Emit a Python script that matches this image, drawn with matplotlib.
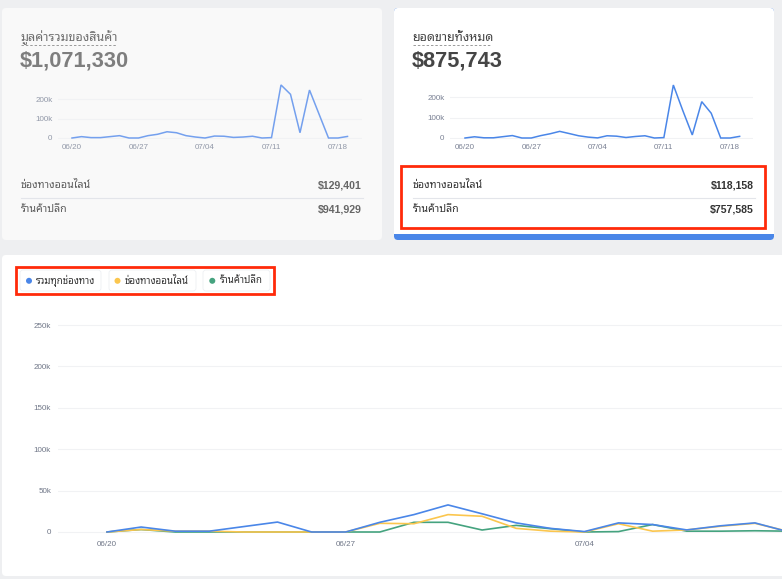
import matplotlib
matplotlib.use("Agg")
import matplotlib.pyplot as plt
import matplotlib.dates as mdates
from matplotlib.patches import FancyBboxPatch, Rectangle, Circle
import pandas as pd
import numpy as np

# ---------------- data ----------------
dates = pd.date_range("2024-06-20", "2024-07-19", freq="D")
# card 1: total product value (thousands)
goods_total = [0, 7, 2, 2, 7, 12, 0, 0, 12, 19, 32, 27, 12, 5, 0, 10, 9, 3, 5, 9,
               0, 2, 272, 224, 27, 246, 123, 0, 0, 8]
# card 2: total sales (thousands) - also the "all channels" series below
sales_total = [0, 6, 1, 1, 6.5, 12, 0, 0, 11.7, 21, 32.7, 22, 11, 4.4, 0.5, 11, 9, 2.5, 7.5, 11,
               0, 2, 261, 135, 15, 179, 122, 0, 0, 8]
# bottom chart, visible part (06/20 - 07/10)
online = [0, 3, 1, 1, 0, 0, 0, 0, 10.5, 10, 21, 19, 4.4, 1, 0, 10, 1, 2.5, 7, 10.5, 0.5]
retail = [0, 3, 0, 0, 0, 0, 0, 0, 0, 11.7, 11.7, 2.4, 8, 4, 0, 0.5, 9, 1, 1, 1.5, 1]

card_titles = ["มูลค่ารวมของสินค้า", "ยอดขายทั้งหมด"]
card_values = ["$1,071,330", "$875,743"]
row_labels = ["ช่องทางออนไลน์", "ร้านค้าปลีก"]
row_values = [["$129,401", "$941,929"], ["$118,158", "$757,585"]]
legend_labels = ["รวมทุกช่องทาง", "ช่องทางออนไลน์", "ร้านค้าปลีก"]
small_yticks = [0, 100, 200]
big_yticks = [0, 50, 100, 150, 200, 250]

# ---------------- style ----------------
W, H = 782, 579
BLUE = "#4a86e8"
YELLOW = "#fbc64e"
GREEN = "#45a37f"
RED = "#ff2a0a"
THAI = ["Noto Sans Thai Looped", "Liberation Sans", "DejaVu Sans"]
LATIN = ["Liberation Sans", "DejaVu Sans"]
plt.rcParams["font.family"] = LATIN

fig = plt.figure(figsize=(W / 100, H / 100), dpi=100)
fig.patch.set_facecolor("#eeeff1")

bg = fig.add_axes([0, 0, 1, 1], zorder=0)
bg.set_xlim(0, W)
bg.set_ylim(H, 0)
bg.axis("off")


def card(x0, y0, x1, y1, fc, ec="none"):
    p = FancyBboxPatch((x0 + 4, y0 + 4), (x1 - x0) - 8, (y1 - y0) - 8,
                       boxstyle="round,pad=4", fc=fc, ec=ec, lw=0.6, zorder=1)
    bg.add_patch(p)


def pxax(x0, y0, x1, y1):
    return fig.add_axes([x0 / W, 1 - y1 / H, (x1 - x0) / W, (y1 - y0) / H], zorder=3)


# cards
card(2, 8, 382, 240, "#f9f9f9")
card(394, 8, 774, 240, BLUE)
card(394, 8, 774, 236, "#ffffff")
bg.add_patch(Rectangle((394, 226), 380, 10, fc="#ffffff", ec="none", zorder=1.5))
bg.add_patch(Rectangle((394, 234), 380, 2.5, fc=BLUE, ec="none", zorder=1.6))
card(2, 255, 800, 576, "#ffffff")

# ---------------- top cards ----------------
card_x = [20.5, 412.5]
card_right = [362, 754]
title_col = ["#6f6f6f", "#444444"]
value_col = ["#7e7e7e", "#454545"]
row_col = ["#5c5c5c", "#333333"]
rowv_col = ["#666666", "#333333"]
line_col = ["#74a0ee", BLUE]
tick_col = ["#9198a8", "#7a8194"]
title_w = [96, 78]
series_small = [goods_total, sales_total]

for i in range(2):
    x = card_x[i]
    bg.text(x, 41, card_titles[i], family=THAI, fontsize=9.0, fontweight="bold",
            color=title_col[i], ha="left", va="baseline", zorder=4)
    bg.plot([x, x + title_w[i]], [44.5, 44.5], color="#9a9a9a", lw=0.7,
            ls=(0, (2.5, 2)), zorder=4)
    bg.text(x - 0.5, 66, card_values[i], fontsize=15.7, fontweight="bold",
            color=value_col[i], ha="left", va="baseline", zorder=4)
    for j, yy in enumerate([185, 210]):
        bg.text(x, yy, row_labels[j], family=THAI, fontsize=7.6,
                color=row_col[i], ha="left", va="center", zorder=4)
        bg.text(card_right[i], yy, row_values[i][j], fontsize=7.6, fontweight="bold",
                color=rowv_col[i], ha="right", va="center", zorder=4)
    bg.plot([x, card_right[i] + 1], [197.5, 197.5], color="#e3e5ea", lw=0.8, zorder=4)

# small charts
small_geo = [(58, 362, 72, 9.5, 19.5), (450, 753, 465, 9.47, 20.3)]
for i, (gx0, gx1, x0d, pxd, pxk) in enumerate(small_geo):
    ytop_k = 300
    ybot_k = -5
    ax = pxax(gx0, 138 - ytop_k * pxk / 100, gx1, 138 - ybot_k * pxk / 100)
    ax.patch.set_alpha(0)
    ax.plot(dates, series_small[i], color=line_col[i], lw=1.1, solid_joinstyle="miter")
    left_days = -(x0d - gx0) / pxd
    right_days = (gx1 - x0d) / pxd
    ax.set_xlim(dates[0] + pd.Timedelta(days=left_days), dates[0] + pd.Timedelta(days=right_days))
    ax.set_ylim(ybot_k, ytop_k)
    ax.set_yticks(small_yticks)
    ax.set_yticklabels(["0", "100k", "200k"])
    ax.set_xticks(dates[::7])
    ax.xaxis.set_major_formatter(mdates.DateFormatter("%m/%d"))
    ax.grid(axis="y", color="#f1f2f4", lw=0.8)
    ax.set_axisbelow(True)
    for s in ax.spines.values():
        s.set_visible(False)
    ax.tick_params(length=0, labelsize=5.8, colors=tick_col[i], pad=4)
    ax.tick_params(axis="x", pad=3.5)

# red box around rows (card 2)
bg.add_patch(Rectangle((400.5, 166), 364, 62, fc="none", ec=RED, lw=2.0, zorder=6))

# ---------------- bottom chart ----------------
pxk = 207 / 250
ax = pxax(58, 532 - 262 * pxk, 782, 532 + 3 * pxk)
ax.patch.set_alpha(0)
ax.plot(dates, sales_total, color=BLUE, lw=1.2, zorder=4)
ax.plot(dates[:len(online)], online, color=YELLOW, lw=1.2, zorder=3)
ax.plot(dates[:len(retail)], retail, color=GREEN, lw=1.2, zorder=2)
pxd = 34.1
ax.set_xlim(dates[0] + pd.Timedelta(days=-(107 - 58) / pxd),
            dates[0] + pd.Timedelta(days=(782 - 107) / pxd))
ax.set_ylim(-3, 262)
ax.set_yticks(big_yticks)
ax.set_yticklabels(["0", "50k", "100k", "150k", "200k", "250k"])
ax.set_xticks(dates[:21:7])
ax.xaxis.set_major_formatter(mdates.DateFormatter("%m/%d"))
ax.grid(axis="y", color="#f1f2f4", lw=0.8)
ax.set_axisbelow(True)
for s in ax.spines.values():
    s.set_visible(False)
ax.tick_params(length=0, labelsize=5.8, colors="#6f7687", pad=5)
ax.tick_params(axis="x", pad=5)

# legend pills
pills = [(20, 101), (109, 196), (203, 270)]
dot_x = [29, 117.5, 212.3]
txt_x = [36, 124.3, 220]
cols = [BLUE, YELLOW, GREEN]
for k in range(3):
    p0, p1 = pills[k]
    bg.add_patch(FancyBboxPatch((p0 + 3, 270 + 3), p1 - p0 - 6, 21 - 6,
                                boxstyle="round,pad=3", fc="#ffffff", ec="#eef0f3",
                                lw=0.6, zorder=4))
    bg.add_patch(Circle((dot_x[k], 280.8), 3.0, fc=cols[k], ec="none", zorder=5))
    bg.text(txt_x[k], 280.8, legend_labels[k], family=THAI, fontsize=7.0,
            color="#333333", ha="left", va="center", zorder=5)
bg.add_patch(Rectangle((15.5, 267), 258, 27, fc="none", ec=RED, lw=2.0, zorder=6))

fig.savefig("out.png", dpi=100, facecolor=fig.get_facecolor())
